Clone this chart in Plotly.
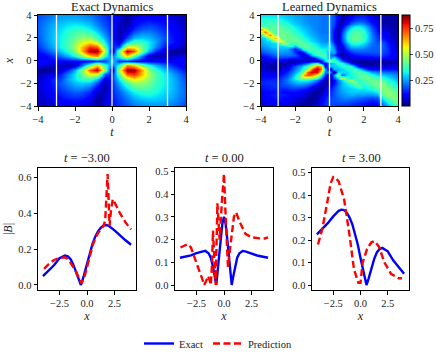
import plotly.graph_objects as go

W, H = 436, 354

# heatmap grids, rows listed from the top of the picture downwards
exact_t = [-4, -3.6, -3.2, -2.8, -2.4, -2, -1.6, -1.2, -0.8, -0.4, 0, 0.4, 0.8, 1.2, 1.6, 2, 2.4, 2.8, 3.2, 3.6, 4]
exact_x = [4, 3.6, 3.2, 2.8, 2.4, 2, 1.6, 1.2, 0.8, 0.4, 0, -0.4, -0.8, -1.2, -1.6, -2, -2.4, -2.8, -3.2, -3.6, -4]
exact_z = [
    [.17, .19, .22, .24, .24, .24, .23, .21, .18, .15, .12, .07, .02, .06, .09, .10, .10, .08, .06, .05, .04],
    [.18, .21, .24, .26, .27, .27, .26, .24, .20, .16, .12, .07, .02, .08, .11, .12, .11, .10, .08, .06, .04],
    [.19, .22, .26, .28, .30, .31, .30, .27, .22, .17, .13, .05, .03, .10, .14, .15, .14, .12, .09, .07, .05],
    [.19, .23, .27, .30, .33, .35, .35, .32, .26, .19, .13, .04, .06, .14, .18, .19, .17, .14, .11, .08, .05],
    [.19, .23, .28, .31, .35, .39, .40, .38, .31, .22, .14, .02, .10, .19, .23, .23, .20, .16, .12, .09, .06],
    [.18, .23, .28, .32, .36, .42, .46, .46, .38, .26, .14, .03, .17, .27, .29, .27, .23, .18, .13, .09, .06],
    [.17, .22, .28, .32, .38, .45, .53, .58, .50, .31, .15, .07, .28, .38, .36, .31, .25, .16, .14, .09, .05],
    [.15, .20, .26, .32, .38, .48, .62, .76, .72, .40, .13, .18, .55, .56, .42, .31, .22, .13, .09, .06, .04],
    [.12, .16, .22, .28, .35, .45, .64, .85, .86, .50, .03, .44, .84, .72, .44, .26, .15, .06, .02, .01, .01],
    [.07, .10, .15, .20, .26, .33, .45, .60, .66, .34, .20, .36, .60, .40, .20, .05, .03, .05, .05, .07, .09],
    [.12, .11, .10, .10, .10, .10, .10, .10, .14, .15, .30, .15, .14, .10, .10, .10, .10, .10, .10, .11, .12],
    [.09, .07, .05, .05, .03, .05, .20, .40, .60, .36, .20, .34, .66, .60, .45, .33, .26, .20, .15, .10, .07],
    [.01, .01, .02, .06, .15, .26, .44, .72, .84, .44, .03, .50, .86, .85, .64, .45, .35, .28, .22, .16, .12],
    [.04, .06, .09, .13, .22, .31, .42, .56, .55, .18, .13, .40, .72, .76, .62, .48, .38, .32, .26, .20, .15],
    [.05, .09, .14, .16, .25, .31, .36, .38, .28, .07, .15, .31, .50, .58, .53, .45, .38, .32, .28, .22, .17],
    [.06, .09, .13, .18, .23, .27, .29, .27, .17, .03, .14, .26, .38, .46, .46, .42, .36, .32, .28, .23, .18],
    [.06, .09, .12, .16, .20, .23, .23, .19, .10, .02, .14, .22, .31, .38, .40, .39, .35, .31, .28, .23, .19],
    [.05, .08, .11, .14, .17, .19, .18, .14, .06, .04, .13, .19, .26, .32, .35, .35, .33, .30, .27, .23, .19],
    [.05, .07, .09, .12, .14, .15, .14, .10, .03, .05, .13, .17, .22, .27, .30, .31, .30, .28, .26, .22, .19],
    [.04, .06, .08, .10, .11, .12, .11, .08, .02, .07, .12, .16, .20, .24, .26, .27, .27, .26, .24, .21, .18],
    [.04, .05, .06, .08, .10, .10, .09, .06, .02, .07, .12, .15, .18, .21, .23, .24, .24, .24, .22, .19, .17],
]

learned_t = [-4, -3.75, -3.5, -3.25, -3, -2.75, -2.5, -2.25, -2, -1.75, -1.5, -1.25, -1, -0.75, -0.5, -0.25, 0,
             0.25, 0.5, 0.75, 1, 1.25, 1.5, 1.75, 2, 2.25, 2.5, 2.75, 3, 3.25, 3.5, 3.75, 4]
learned_x = [4, 3.75, 3.5, 3.25, 3, 2.75, 2.5, 2.25, 2, 1.75, 1.5, 1.25, 1, 0.75, 0.5, 0.25, 0,
             -0.25, -0.5, -0.75, -1, -1.25, -1.5, -1.75, -2, -2.25, -2.5, -2.75, -3, -3.25, -3.5, -3.75, -4]
learned_z = [
    [.30, .30, .30, .30, .29, .28, .27, .26, .25, .24, .23, .22, .22, .22, .21, .21, .21, .17, .10, .03, .05, .09, .12, .13, .13, .11, .08, .05, .03, .03, .03, .03, .03],
    [.32, .33, .33, .33, .32, .31, .29, .28, .26, .25, .24, .23, .22, .22, .21, .21, .21, .17, .09, .03, .07, .11, .14, .15, .15, .12, .09, .05, .03, .03, .03, .03, .03],
    [.34, .35, .36, .36, .35, .33, .31, .29, .27, .26, .24, .23, .22, .22, .21, .21, .21, .17, .08, .03, .09, .14, .17, .18, .17, .14, .10, .06, .03, .03, .03, .03, .03],
    [.36, .37, .38, .38, .37, .36, .34, .31, .29, .27, .25, .24, .23, .22, .21, .21, .21, .16, .06, .05, .13, .20, .24, .25, .23, .18, .13, .08, .04, .04, .03, .03, .03],
    [.36, .38, .39, .40, .40, .38, .36, .34, .31, .29, .26, .25, .23, .22, .21, .21, .21, .15, .04, .09, .19, .27, .31, .31, .28, .22, .16, .10, .05, .05, .04, .03, .03],
    [.66, .50, .38, .40, .41, .40, .38, .36, .33, .30, .28, .26, .24, .22, .21, .21, .21, .13, .03, .13, .25, .33, .36, .36, .32, .25, .18, .12, .06, .06, .05, .04, .03],
    [.50, .70, .50, .38, .41, .42, .40, .38, .35, .32, .30, .27, .25, .23, .21, .21, .21, .11, .03, .16, .30, .37, .39, .39, .35, .28, .20, .13, .09, .08, .06, .04, .03],
    [.30, .50, .68, .48, .39, .42, .42, .40, .37, .34, .31, .29, .26, .24, .22, .22, .22, .10, .04, .18, .32, .39, .41, .40, .36, .29, .21, .15, .12, .10, .07, .05, .03],
    [.28, .30, .45, .62, .58, .40, .41, .42, .40, .37, .33, .31, .28, .25, .23, .22, .22, .10, .04, .18, .32, .40, .41, .40, .36, .29, .22, .16, .13, .11, .08, .05, .03],
    [.26, .28, .30, .42, .56, .55, .36, .40, .42, .40, .37, .33, .30, .27, .24, .23, .24, .12, .04, .16, .30, .38, .40, .38, .34, .28, .22, .17, .17, .14, .10, .06, .04],
    [.25, .27, .29, .30, .32, .45, .50, .34, .40, .41, .40, .37, .33, .30, .26, .25, .27, .15, .05, .13, .26, .33, .35, .34, .30, .25, .21, .18, .19, .16, .12, .07, .04],
    [.23, .25, .27, .29, .30, .29, .32, .34, .26, .38, .40, .39, .36, .32, .29, .28, .32, .20, .07, .10, .21, .28, .29, .28, .26, .22, .20, .19, .20, .17, .13, .08, .05],
    [.20, .22, .24, .26, .27, .27, .26, .20, .12, .22, .37, .38, .38, .35, .33, .32, .30, .25, .08, .07, .16, .21, .22, .22, .21, .20, .19, .19, .19, .17, .13, .09, .06],
    [.17, .19, .21, .23, .24, .24, .23, .22, .15, .06, .16, .30, .35, .38, .37, .33, .25, .26, .10, .04, .10, .15, .17, .18, .18, .18, .18, .18, .18, .16, .13, .10, .07],
    [.12, .14, .16, .19, .21, .21, .21, .20, .19, .12, .04, .14, .28, .35, .39, .38, .20, .18, .08, .03, .06, .10, .12, .13, .14, .14, .15, .15, .16, .14, .12, .10, .08],
    [.08, .10, .12, .14, .15, .15, .14, .13, .12, .12, .10, .06, .08, .18, .28, .35, .25, .33, .20, .08, .05, .06, .07, .08, .08, .08, .09, .10, .12, .11, .10, .09, .08],
    [.07, .07, .07, .07, .09, .08, .05, .03, .03, .03, .03, .04, .05, .04, .10, .28, .45, .37, .33, .20, .08, .03, .03, .02, .02, .02, .02, .02, .01, .02, .03, .04, .05],
    [.05, .05, .04, .04, .04, .03, .03, .05, .08, .11, .15, .20, .28, .35, .15, .08, .25, .30, .36, .34, .24, .12, .06, .03, .02, .02, .02, .02, .02, .03, .04, .05, .06],
    [.06, .05, .03, .02, .02, .04, .07, .12, .18, .24, .31, .38, .50, .70, .62, .05, .28, .28, .30, .34, .37, .34, .22, .10, .06, .05, .05, .05, .06, .06, .07, .08, .09],
    [.07, .06, .04, .03, .03, .06, .10, .15, .21, .28, .36, .48, .72, .86, .70, .25, .03, .28, .27, .29, .33, .37, .37, .30, .20, .13, .11, .11, .12, .12, .12, .12, .12],
    [.09, .08, .07, .07, .08, .10, .14, .19, .25, .33, .50, .74, .82, .80, .55, .20, .24, .03, .30, .30, .30, .33, .37, .39, .36, .30, .25, .22, .22, .21, .20, .19, .18],
    [.11, .10, .10, .10, .11, .13, .17, .22, .30, .42, .66, .72, .68, .56, .35, .15, .03, .25, .45, .20, .30, .33, .36, .39, .41, .39, .35, .30, .29, .28, .26, .24, .22],
    [.12, .12, .12, .13, .13, .16, .20, .26, .33, .42, .48, .48, .44, .36, .22, .07, .04, .18, .30, .52, .38, .31, .35, .38, .40, .41, .39, .38, .36, .33, .30, .27, .24],
    [.13, .13, .14, .14, .14, .17, .21, .26, .30, .33, .34, .33, .29, .22, .12, .03, .03, .10, .22, .30, .40, .50, .36, .36, .38, .41, .42, .41, .40, .37, .33, .30, .26],
    [.14, .14, .15, .15, .15, .17, .20, .23, .25, .26, .25, .23, .19, .13, .06, .02, .05, .12, .20, .27, .32, .36, .46, .34, .36, .38, .41, .43, .44, .41, .37, .33, .29],
    [.13, .13, .14, .15, .15, .16, .17, .19, .20, .20, .19, .16, .12, .08, .03, .05, .09, .15, .22, .27, .30, .32, .34, .40, .33, .35, .38, .41, .45, .44, .40, .36, .32],
    [.12, .12, .13, .13, .15, .13, .14, .15, .15, .14, .12, .10, .07, .04, .02, .07, .12, .17, .22, .26, .28, .29, .30, .31, .31, .32, .34, .37, .44, .45, .43, .39, .35],
    [.10, .10, .11, .11, .145, .11, .11, .11, .11, .10, .08, .06, .04, .02, .04, .09, .14, .18, .22, .25, .27, .28, .28, .28, .28, .28, .29, .31, .40, .44, .45, .42, .39],
    [.10, .11, .12, .13, .14, .13, .12, .11, .10, .09, .07, .05, .03, .02, .06, .11, .14, .18, .21, .23, .25, .26, .25, .24, .24, .23, .23, .25, .36, .43, .45, .44, .41],
    [.09, .10, .11, .12, .13, .12, .11, .10, .08, .07, .05, .03, .02, .03, .08, .12, .16, .18, .20, .22, .23, .23, .22, .21, .20, .19, .18, .20, .30, .38, .42, .44, .43],
    [.08, .09, .10, .11, .12, .11, .10, .08, .07, .05, .04, .02, .02, .04, .09, .13, .17, .18, .19, .20, .20, .19, .18, .17, .16, .15, .14, .15, .25, .32, .38, .42, .43],
    [.07, .08, .09, .10, .10, .09, .08, .07, .05, .04, .03, .02, .03, .06, .10, .14, .17, .17, .17, .17, .17, .16, .15, .14, .13, .12, .11, .11, .21, .26, .33, .37, .40],
    [.06, .07, .08, .09, .09, .08, .07, .06, .04, .03, .02, .03, .05, .08, .11, .14, .17, .16, .15, .15, .15, .14, .13, .12, .11, .10, .09, .09, .18, .22, .27, .33, .37],
]

assert all(len(r) == len(exact_t) for r in exact_z) and len(exact_z) == len(exact_x)
assert all(len(r) == len(learned_t) for r in learned_z) and len(learned_z) == len(learned_x)

slice_times = [-3, 0, 3]

# slices, exact
m3_exact_x = [-4, -3.5, -3, -2.5, -2, -1.75, -1.5, -1.25, -1, -0.75, -0.55, -0.3, 0, 0.25, 0.5, 0.75, 1, 1.25, 1.5, 1.75, 2, 2.5, 3, 3.5, 4]
m3_exact_y = [.05, .08, .11, .15, .165, .16, .145, .115, .075, .03, 0, .05, .12, .18, .23, .27, .30, .32, .333, .335, .33, .305, .275, .25, .225]
z0_exact_x = [-4, -3, -2.5, -2, -1.7, -1.4, -1.2, -1, -0.85, -0.7, -0.5, -0.3, -0.15, 0, 0.15, 0.3, 0.5, 0.7, 0.85, 1, 1.2, 1.4, 1.7, 2, 2.5, 3, 4]
z0_exact_y = [.12, .13, .14, .147, .15, .14, .12, .08, .04, 0, .10, .20, .27, .30, .27, .20, .10, 0, .04, .08, .12, .14, .15, .147, .14, .13, .12]
p3_exact_x = [-4, -3.5, -3, -2.5, -2, -1.75, -1.5, -1.25, -1, -0.75, -0.5, -0.25, 0, 0.3, 0.55, 0.75, 1, 1.25, 1.5, 1.75, 2, 2.5, 3, 3.5, 4]
p3_exact_y = [.225, .25, .275, .305, .33, .335, .333, .32, .30, .27, .23, .18, .12, .05, 0, .03, .075, .115, .145, .16, .165, .15, .11, .08, .05]

# slices, prediction
m3_pred_x = [-3.9, -3.5, -3, -2.5, -2, -1.75, -1.5, -1.25, -1, -0.75, -0.5, -0.25, 0, 0.25, 0.5, 0.75, 1, 1.25, 1.5, 1.65, 1.78, 1.87, 1.95, 2.05, 2.2, 2.35, 2.6, 3, 3.5, 4]
m3_pred_y = [.09, .115, .14, .15, .155, .145, .125, .10, .075, .04, .01, .04, .10, .16, .22, .26, .29, .31, .33, .36, .50, .62, .50, .33, .43, .48, .45, .40, .35, .31]
z0_pred_x = [-3.95, -3.6, -3.3, -3, -2.8, -2.5, -2.3, -2, -1.8, -1.6, -1.45, -1.3, -1.2, -1.1, -1, -0.88, -0.75, -0.6, -0.5, -0.4, -0.2, 0, 0.15, 0.36, 0.6, 0.9, 1.1, 1.4, 1.95, 2.5, 3.3, 3.7, 4]
z0_pred_y = [.165, .172, .18, .165, .14, .10, .07, .03, 0, .02, .04, .02, 0, .08, .24, .12, 0, .36, .28, .20, .36, .49, .30, .08, .18, .30, .32, .28, .225, .21, .205, .205, .21]
p3_pred_x = [-3.9, -3.5, -3, -2.75, -2.5, -2.25, -2, -1.5, -1, -0.6, -0.2, 0, 0.2, 0.6, 1, 1.3, 1.7, 2.2, 2.8, 3.5, 3.8]
p3_pred_y = [.18, .25, .38, .45, .48, .475, .46, .38, .22, .07, .01, .01, .10, .16, .19, .195, .17, .10, .05, .03, .03]

jet = [[0, "rgb(0,0,127)"], [.11, "rgb(0,0,255)"], [.125, "rgb(0,0,255)"], [.34, "rgb(0,219,255)"],
       [.375, "rgb(20,255,226)"], [.64, "rgb(239,255,8)"], [.66, "rgb(255,236,0)"], [.89, "rgb(255,19,0)"],
       [.91, "rgb(232,0,0)"], [1, "rgb(127,0,0)"]]

FONT = "Liberation Serif"
TEXT = "#222222"


def dom_x(a, b):
    return [a / W, b / W]


def dom_y(top, bottom):
    return [1 - bottom / H, 1 - top / H]


def axis_style(**kw):
    base = dict(showgrid=False, zeroline=False, showline=True, mirror=True, linecolor="black", linewidth=1,
                ticks="outside", ticklen=3.5, tickwidth=1, tickcolor="black",
                tickfont=dict(family=FONT, size=10.5, color=TEXT), title_font=dict(family=FONT, size=12, color=TEXT))
    base.update(kw)
    return base


fig = go.Figure()
fig.add_trace(go.Heatmap(x=exact_t, y=exact_x, z=exact_z, colorscale=jet, zmin=0, zmax=.875, zsmooth="best",
                         showscale=False, xaxis="x", yaxis="y"))
fig.add_trace(go.Heatmap(x=learned_t, y=learned_x, z=learned_z, colorscale=jet, zmin=0, zmax=.875, zsmooth="best",
                         xaxis="x2", yaxis="y2",
                         colorbar=dict(x=402 / W, xanchor="left", y=1 - 106 / H, yanchor="bottom", len=91 / H,
                                       thickness=8, tickvals=[.25, .5, .75], ticktext=["0.25", "0.50", "0.75"],
                                       ticks="outside", ticklen=3, outlinewidth=1, outlinecolor="black", xpad=0, ypad=0,
                                       tickfont=dict(family=FONT, size=10.5, color=TEXT))))

for xa, ya in [("x", "y"), ("x2", "y2")]:
    for t in slice_times:
        fig.add_trace(go.Scatter(x=[t, t], y=[-4, 4], mode="lines", line=dict(color="white", width=1.3),
                                 xaxis=xa, yaxis=ya, showlegend=False))

slices = [("x3", "y3", m3_exact_x, m3_exact_y, m3_pred_x, m3_pred_y),
          ("x4", "y4", z0_exact_x, z0_exact_y, z0_pred_x, z0_pred_y),
          ("x5", "y5", p3_exact_x, p3_exact_y, p3_pred_x, p3_pred_y)]
for i, (xa, ya, ex, ey, px, py) in enumerate(slices):
    fig.add_trace(go.Scatter(x=ex, y=ey, mode="lines", name="Exact", line=dict(color="#0000ff", width=2.4),
                             xaxis=xa, yaxis=ya, showlegend=i == 0))
    fig.add_trace(go.Scatter(x=px, y=py, mode="lines", name="Prediction",
                             line=dict(color="#ff0000", width=2.4, dash="7px,3.5px"),
                             xaxis=xa, yaxis=ya, showlegend=i == 0))

heat_ticks = dict(range=[-4, 4], tickvals=[-4, -2, 0, 2, 4], ticktext=["−4", "−2", "0", "2", "4"])
slice_ticks = dict(range=[-4.45, 4.45], tickvals=[-2.5, 0, 2.5], ticktext=["−2.5", "0.0", "2.5"])

fig.update_layout(
    width=W, height=H, autosize=False, margin=dict(l=0, r=0, t=0, b=0, autoexpand=False),
    paper_bgcolor="white", plot_bgcolor="white",
    xaxis=axis_style(domain=dom_x(38, 186), anchor="y", title=dict(text="<i>t</i>", standoff=3), **heat_ticks),
    yaxis=axis_style(domain=dom_y(15, 106), anchor="x", title=dict(text="<i>x</i>", standoff=4), **heat_ticks),
    xaxis2=axis_style(domain=dom_x(261, 398), anchor="y2", title=dict(text="<i>t</i>", standoff=3), **heat_ticks),
    yaxis2=axis_style(domain=dom_y(15, 106), anchor="x2", **heat_ticks),
    xaxis3=axis_style(domain=dom_x(38, 136), anchor="y3", title=dict(text="<i>x</i>", standoff=3), **slice_ticks),
    yaxis3=axis_style(domain=dom_y(168, 290), anchor="x3", range=[-.028, .654], tickvals=[0, .2, .4, .6],
                      ticktext=["0.0", "0.2", "0.4", "0.6"], title=dict(text="|<i>B</i>|", standoff=3)),
    xaxis4=axis_style(domain=dom_x(175, 273), anchor="y4", title=dict(text="<i>x</i>", standoff=3), **slice_ticks),
    yaxis4=axis_style(domain=dom_y(168, 290), anchor="x4", range=[-.022, .515], tickvals=[0, .1, .2, .3, .4, .5],
                      ticktext=["0.0", "0.1", "0.2", "0.3", "0.4", "0.5"]),
    xaxis5=axis_style(domain=dom_x(312, 409), anchor="y5", title=dict(text="<i>x</i>", standoff=3), **slice_ticks),
    yaxis5=axis_style(domain=dom_y(168, 290), anchor="x5", range=[-.022, .52], tickvals=[0, .1, .2, .3, .4, .5],
                      ticktext=["0.0", "0.1", "0.2", "0.3", "0.4", "0.5"]),
    legend=dict(orientation="h", x=.5, xanchor="center", y=1 - 329 / H, yanchor="top",
                font=dict(family=FONT, size=10.5, color=TEXT), bgcolor="rgba(0,0,0,0)", itemwidth=30),
)

titles = [("Exact Dynamics", 112, 6.5), ("Learned Dynamics", 329, 6.5),
          ("<i>t</i> = −3.00", 87, 158), ("<i>t</i> = 0.00", 224, 158), ("<i>t</i> = 3.00", 361, 158)]
for text, cx, cy in titles:
    fig.add_annotation(text=text, x=cx / W, y=1 - cy / H, xref="paper", yref="paper", showarrow=False,
                       xanchor="center", yanchor="middle", font=dict(family=FONT, size=12.5, color=TEXT))

fig.write_html("out.html", config=dict(displayModeBar=False),
               post_script="document.body.style.margin='0';document.body.style.overflow='hidden';")
